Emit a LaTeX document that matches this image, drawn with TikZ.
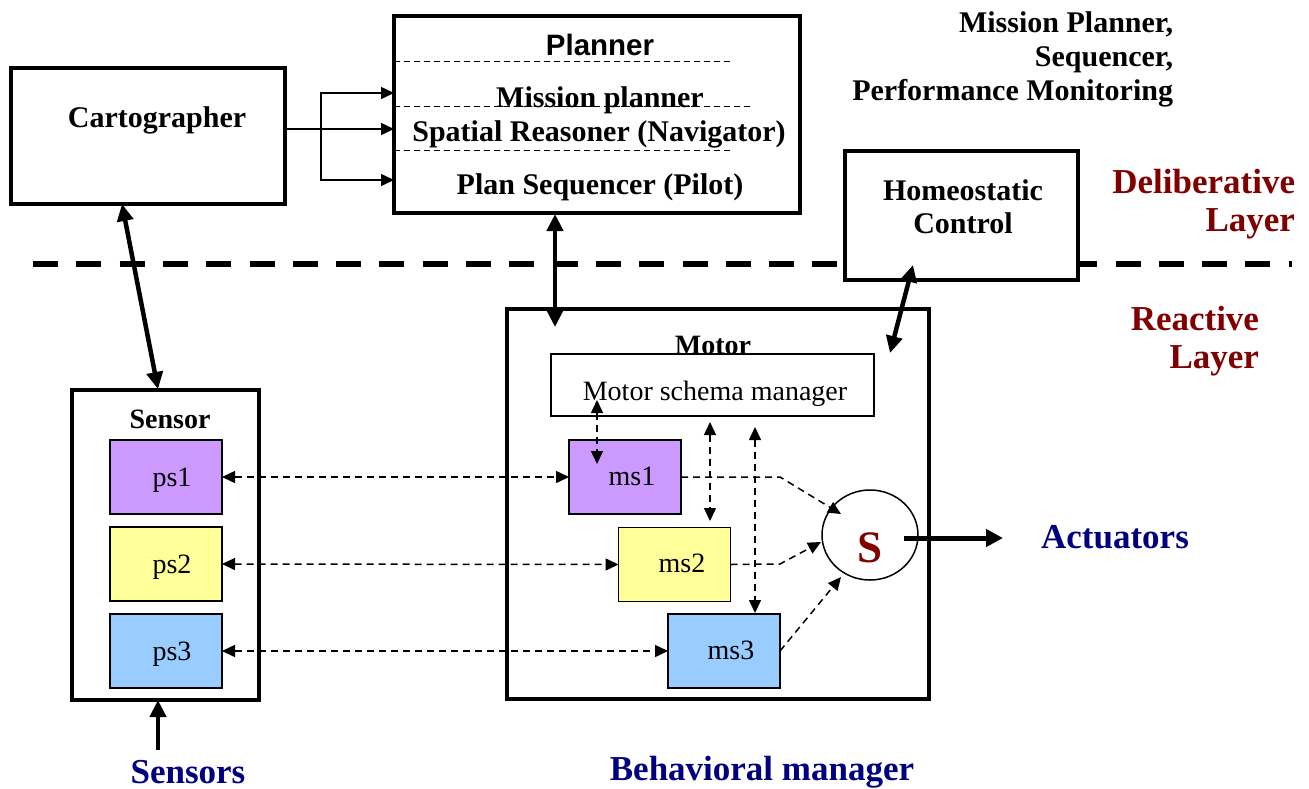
\documentclass[tikz,border=0pt]{standalone}
\usepackage{fontspec}
\setmainfont{Liberation Serif}
\newfontfamily\arialfont{Liberation Sans}
\usetikzlibrary{arrows.meta,shapes.geometric}

\definecolor{violetfill}{HTML}{CC99FF}
\definecolor{yellowfill}{HTML}{FFFF99}
\definecolor{bluefill}{HTML}{99CCFF}
\definecolor{layerred}{HTML}{800000}
\definecolor{navyblue}{HTML}{000080}

\tikzset{
  every node/.style={inner sep=0pt, outer sep=0pt},
  bigbox/.style={draw, line width=3.5pt, fill=white},
  thinbox/.style={draw, line width=1.5pt},
  schema/.style={draw, line width=1.5pt, minimum width=112pt, minimum height=74pt},
  lbl/.style={anchor=base, font=\fontsize{30}{35}\selectfont\bfseries},
  lblsm/.style={anchor=base, font=\fontsize{28}{33}\selectfont},
  lblsmb/.style={anchor=base, font=\fontsize{28}{33}\selectfont\bfseries},
  layerlbl/.style={anchor=base east, text=layerred, font=\fontsize{35}{41}\selectfont\bfseries},
  iolbl/.style={anchor=base, text=navyblue, font=\fontsize{35}{41}\selectfont\bfseries},
  feed/.style={line width=1.5pt, -{Triangle[length=13pt,width=12pt]}},
  biglink/.style={line width=4.5pt, {Triangle[length=17pt,width=16pt]}-{Triangle[length=17pt,width=16pt]}},
  bigfeed/.style={line width=4.5pt, -{Triangle[length=17pt,width=16pt]}},
  dlink/.style={line width=1.5pt, dash pattern=on 7pt off 5pt,
                {Triangle[length=13pt,width=12pt]}-{Triangle[length=13pt,width=12pt]}},
  done/.style={line width=1.5pt, dash pattern=on 7pt off 5pt, -{Triangle[length=13pt,width=12pt]}},
  sep/.style={line width=1pt, dash pattern=on 6pt off 4pt},
}

\begin{document}
\begin{tikzpicture}[x=1pt, y=-1pt]
\useasboundingbox (0,0) rectangle (1309,788);

% layer divider
\draw[line width=6pt, dash pattern=on 25pt off 18.3pt] (33,264) -- (1292,264);

% deliberative layer
\node[bigbox, minimum width=274pt, minimum height=136pt] (carto) at (148,136) {};
\node[lbl] (cartotxt) at (157,127) {Cartographer};

\node[bigbox, minimum width=406pt, minimum height=197pt] (planner) at (597,114.5) {};
\node[anchor=base, font=\fontsize{29.5}{35}\selectfont\arialfont\bfseries] (plannertxt) at (600,55) {Planner};
\node[lbl] (mission) at (600,107) {Mission planner};
\node[lbl] (spatial) at (599,141) {Spatial Reasoner (Navigator)};
\node[lbl] (sequencer) at (600,194) {Plan Sequencer (Pilot)};
\draw[sep] (planner.west |- 0,61) -- (730,61);
\draw[sep] (planner.west |- 0,106) -- (752,106);
\draw[sep] (planner.west |- 0,150) -- (730,150);

\node[bigbox, minimum width=233pt, minimum height=129pt] (homeo) at (961.5,215.5) {};
\node[lbl] (homeotxt1) at (963,200) {Homeostatic};
\node[lbl] (homeotxt2) at (963,233) {Control};

\node[lbl, anchor=base east] (note1) at (1173,32) {Mission Planner,};
\node[lbl, anchor=base east] (note2) at (1173,66) {Sequencer,};
\node[lbl, anchor=base east] (note3) at (1173,100) {Performance Monitoring};

\node[layerlbl] (delib1) at (1295,193) {Deliberative};
\node[layerlbl] (delib2) at (1295,231) {Layer};
\node[layerlbl] (react1) at (1259,330) {Reactive};
\node[layerlbl] (react2) at (1259,368) {Layer};

% cartographer feeds the planner
\coordinate (branch) at (321,129);
\coordinate (inmission) at (394,93);
\coordinate (inspatial) at (394,129);
\coordinate (inseq) at (394,180);
\draw[line width=1.5pt] (carto.east |- branch) -- (branch);
\draw[feed] (branch) -- (inspatial);
\draw[feed] (branch) |- (inmission);
\draw[feed] (branch) |- (inseq);

% reactive layer: sensor side
\node[bigbox, minimum width=187pt, minimum height=310pt] (sensor) at (165.5,545) {};
\node[lblsmb] (sensortxt) at (170,428) {Sensor};
\node[schema, fill=violetfill] (ps1) at (166,477) {};
\node[schema, fill=yellowfill] (ps2) at (166,564) {};
\node[schema, fill=bluefill] (ps3) at (166,651) {};
\node[lblsm] (ps1txt) at (172,486) {ps1};
\node[lblsm] (ps2txt) at (172,573) {ps2};
\node[lblsm] (ps3txt) at (172,660) {ps3};

% reactive layer: motor side
\node[bigbox, minimum width=422pt, minimum height=390pt] (motor) at (718,504) {};
\node[lblsmb] (motortxt) at (713,354) {Motor};
\node[thinbox, fill=white, minimum width=323pt, minimum height=62pt] (msm) at (712.5,385) {};
\node[lblsm] (msmtxt) at (715,400) {Motor schema manager};
\node[schema, fill=violetfill] (ms1) at (625,477) {};
\node[schema, fill=yellowfill] (ms2) at (674.5,564.5) {};
\node[schema, fill=bluefill] (ms3) at (724,651) {};
\node[lblsm] (ms1txt) at (632,485) {ms1};
\node[lblsm] (ms2txt) at (682,572) {ms2};
\node[lblsm] (ms3txt) at (731,659) {ms3};

\node[draw, ellipse, line width=1.5pt, minimum width=96pt, minimum height=90pt] (sum) at (870,535) {};
\node[anchor=base, text=layerred, font=\fontsize{45}{50}\selectfont\bfseries] (sumtxt) at (870,562) {S};

% links between the layers
\coordinate (cartobot) at (122,204);
\coordinate (sensortop) at (158,389);
\coordinate (plannerbot) at (555,214);
\coordinate (motorin) at (555,327);
\coordinate (homeobot) at (913,265);
\coordinate (motorin2) at (890,353);
\draw[biglink] (cartobot) -- (sensortop);
\draw[biglink] (plannerbot) -- (motorin);
\draw[biglink] (homeobot) -- (motorin2);

% sensor <-> motor schema links
\draw[dlink] (ps1.east) -- (ms1.west);
\draw[dlink] (ps2.east) -- (ms2.west);
\draw[dlink] (ps3.east) -- (ms3.west);

% schema manager <-> schemas
\coordinate (m1top) at (597,400);
\coordinate (m1bot) at (597,464);
\coordinate (m2top) at (710,422);
\coordinate (m2bot) at (710,521);
\coordinate (m3top) at (755,427);
\coordinate (m3bot) at (755,613);
\draw[dlink] (m1top) -- (m1bot);
\draw[dlink] (m2top) -- (m2bot);
\draw[dlink] (m3top) -- (m3bot);

% schemas into the summing node
\coordinate (k1) at (780,477);
\coordinate (k2) at (780,564);
\coordinate (s1) at (841,514);
\coordinate (s2) at (821,542);
\coordinate (s3) at (841,577);
\draw[done] (ms1.east) -- (k1) -- (s1);
\draw[done] (ms2.east) -- (k2) -- (s2);
\draw[done] (ms3.east) -- (s3);

% outputs and inputs
\node[iolbl] (actuators) at (1115,548) {Actuators};
\coordinate (sumout) at (904,538);
\coordinate (actend) at (1003,538);
\draw[line width=5pt, -{Triangle[length=17pt,width=17pt]}] (sumout) -- (actend);

\node[iolbl] (sensorsin) at (188,783) {Sensors};
\coordinate (sensorsfoot) at (158,750);
\draw[bigfeed] (sensorsfoot) -- (sensor.south -| sensorsfoot);

\node[iolbl] (behaviour) at (762,780) {Behavioral manager};
\end{tikzpicture}
\end{document}
